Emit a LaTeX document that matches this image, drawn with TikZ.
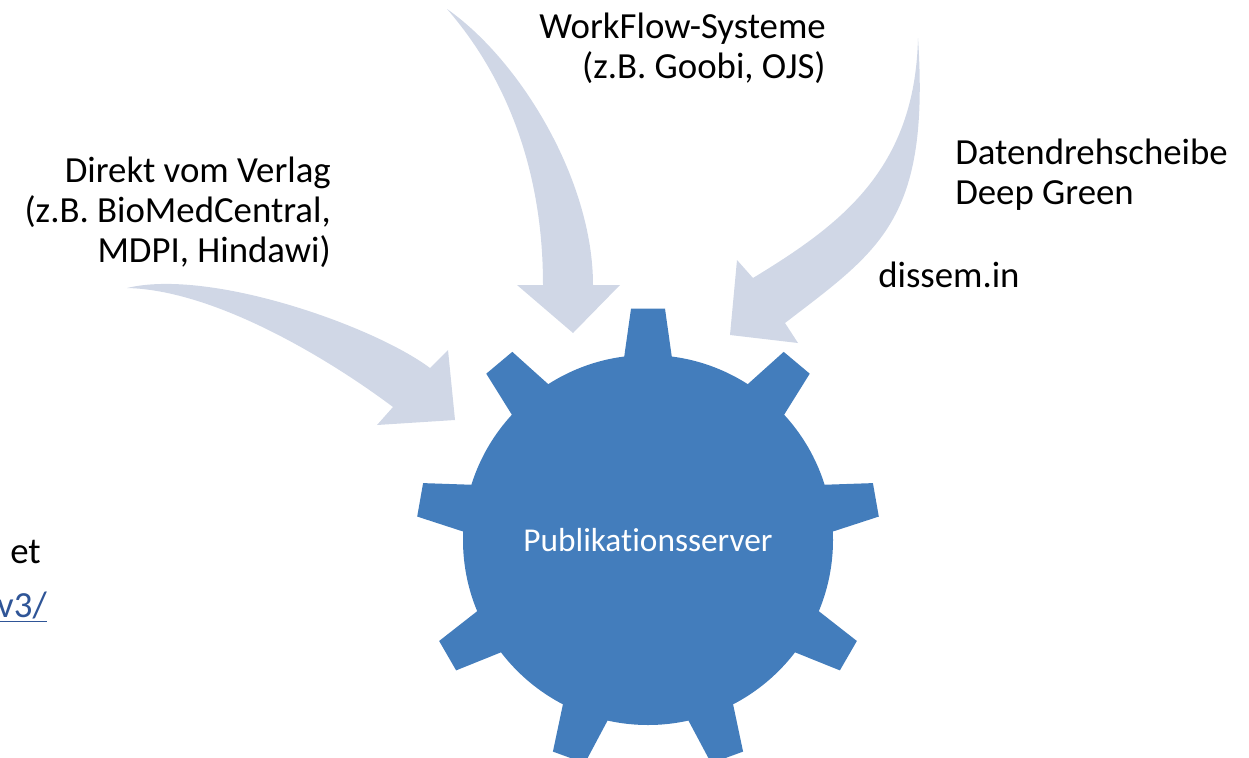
\documentclass[tikz,border=0pt]{standalone}
\usepackage{fontspec}
\setmainfont{Carlito}[Ligatures={NoCommon,NoRare,NoDiscretionary}]
\definecolor{gearblue}{RGB}{67,125,188}
\definecolor{flowgray}{RGB}{208,215,230}
\definecolor{linkblue}{RGB}{47,85,151}
\begin{document}
\begin{tikzpicture}[x=0.75pt, y=-0.75pt,
  lbl/.style={inner sep=0, font=\fontsize{27.6}{30}\selectfont},
  flow/.style={fill=flowgray}]
\useasboundingbox (0,0) rectangle (1249,757); % page
\coordinate (hub) at (648,540);
\foreach \a in {-90,-50,...,230}
  \fill[gearblue, shift={(hub)}] ({\a-8}:178) -- ({\a-4.2}:232) -- ({\a+4.2}:232) -- ({\a+8}:178) -- cycle; % teeth
\node[circle, fill=gearblue, minimum size=277.5pt, inner sep=0, text=white, font=\fontsize{25}{30}\selectfont] (server) at (hub) {\raisebox{-3pt}{Publikationsserver}}; % gear body
\fill[flow] (127,288) .. controls (210,268) and (374,326) .. (430,368) -- (448,350) -- (455,420) -- (377,425) -- (393,407) .. controls (329,359) and (215,290) .. (127,288) -- cycle; % left arrow
\fill[flow] (447,9) .. controls (520,60) and (593,180) .. (593,285) -- (620,285) -- (573,333) -- (517,285) -- (543,285) .. controls (543,160) and (500,70) .. (447,9) -- cycle; % top arrow
\fill[flow] (918,38) .. controls (930,220) and (880,250) .. (785,323) -- (798,343) -- (730,335) -- (737,260) -- (753,278) .. controls (840,225) and (915,170) .. (918,38) -- cycle; % right arrow
\node[lbl, anchor=east, align=right] (workflow) at (826,48) {WorkFlow-Systeme\\(z.B. Goobi, OJS)};
\node[lbl, anchor=east, align=right] (verlag) at (331,212) {Direkt vom Verlag\\(z.B. BioMedCentral,\\MDPI, Hindawi)};
\node[lbl, anchor=west, align=left] (drehscheibe) at (955,175) {Datendrehscheibe\\Deep Green};
\node[lbl, anchor=west] (dissem) at (878,275) {dissem.in};
\node[lbl, anchor=east] (cutone) at (41,552) {et}; % cut off at the left
\node[lbl, anchor=east, text=linkblue] (cuttwo) at (47,607) {\underline{v3/}};
\end{tikzpicture}
\end{document}
